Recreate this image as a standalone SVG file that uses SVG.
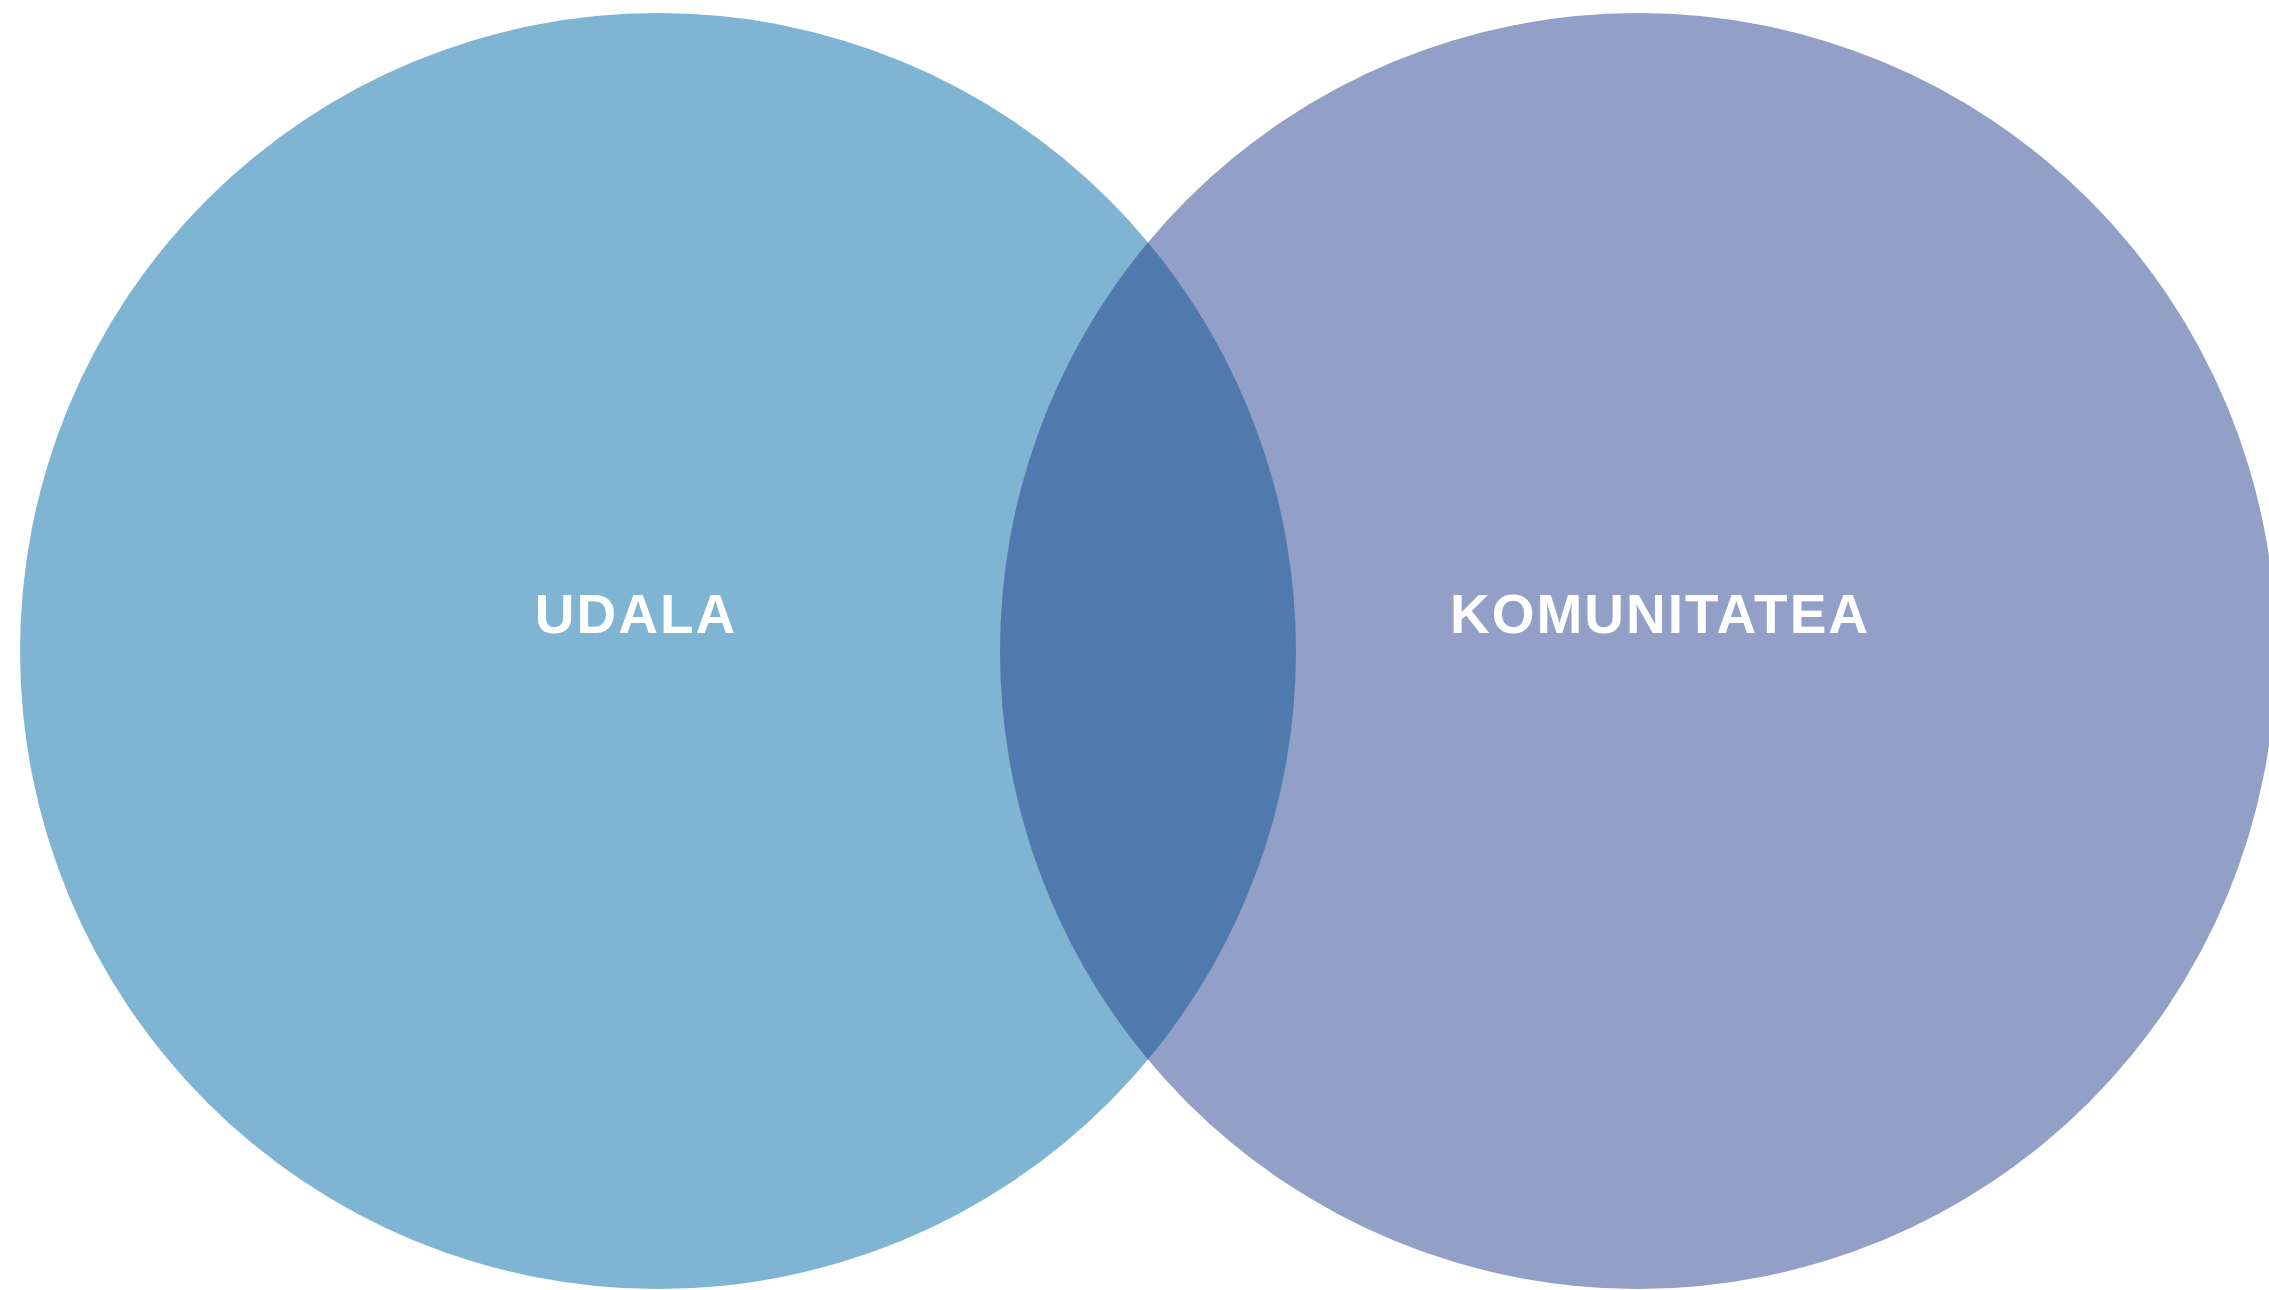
<svg xmlns="http://www.w3.org/2000/svg" width="2269" height="1290" viewBox="0 0 2269 1290">
<style>
.lbl{font-family:"Liberation Sans",Arial,sans-serif;font-weight:bold;font-size:55px;fill:#ffffff;letter-spacing:2px;text-anchor:middle}
</style>
<rect width="2269" height="1290" fill="#ffffff"/>
<g id="udala">
<circle cx="658" cy="651" r="638" fill="#80B4D3"/>
</g>
<g id="komunitatea">
<circle cx="1638" cy="651" r="638" fill="#92A0C8"/>
</g>
<g id="overlap">
<path d="M1148,242.4 A638,638 0 0,1 1148,1059.6 A638,638 0 0,1 1148,242.4 Z" fill="#5079AE"/>
</g>
<g id="labels">
<text class="lbl" x="636" y="633">UDALA</text>
<text class="lbl" x="1660" y="633">KOMUNITATEA</text>
</g>
<g id="connectors"/>
</svg>
